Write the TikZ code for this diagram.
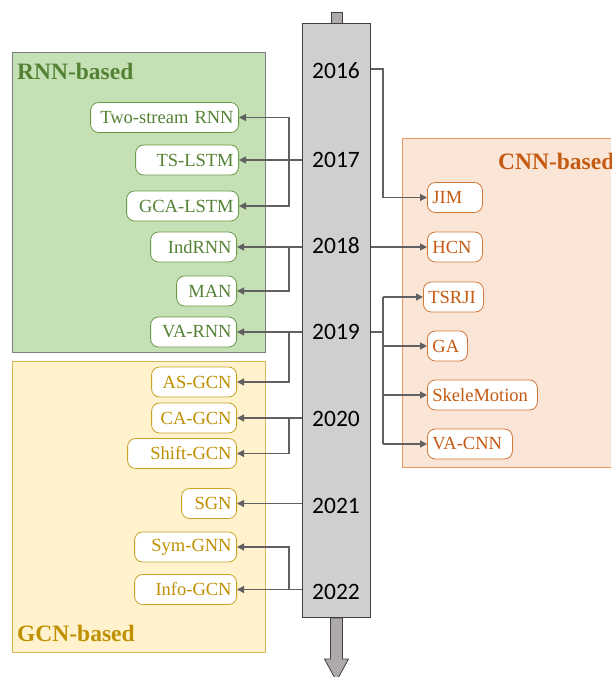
\documentclass[tikz,border=0pt]{standalone}
\usepackage{fontspec}
\setmainfont{Liberation Serif}
\newfontfamily\modelfont{Liberation Serif}
\newfontfamily\yearfont{Carlito}
\usetikzlibrary{arrows.meta}
\definecolor{rnnfill}{HTML}{C5E0B4}
\definecolor{rnnline}{HTML}{7F7F7F}
\definecolor{rnnnode}{HTML}{6A9A45}
\definecolor{rnntext}{HTML}{548235}
\definecolor{gcnfill}{HTML}{FFF2CC}
\definecolor{gcnline}{HTML}{D6B656}
\definecolor{gcnnode}{HTML}{C9A227}
\definecolor{gcntext}{HTML}{BF9000}
\definecolor{cnnfill}{HTML}{FBE5D6}
\definecolor{cnnline}{HTML}{E59A66}
\definecolor{cnnnode}{HTML}{D0773A}
\definecolor{cnntext}{HTML}{C55A11}
\definecolor{barfill}{HTML}{D0CECE}
\definecolor{stubfill}{HTML}{AEAAAA}
\definecolor{linkgray}{HTML}{606060}
\tikzstyle{model} = [draw, fill=white, rounded corners=8pt, minimum height=30pt, inner xsep=5pt, line width=0.8pt, font={\modelfont\fontsize{18.5pt}{22pt}\selectfont}]
\tikzstyle{rnn} = [model, draw=rnnnode, text=rnntext, anchor=east, align=right]
\tikzstyle{gcn} = [model, draw=gcnnode, text=gcntext, anchor=east, align=right]
\tikzstyle{cnn} = [model, draw=cnnnode, text=cnntext, anchor=west, align=left]
\tikzstyle{year} = [font={\yearfont\fontsize{23.5pt}{28pt}\selectfont}, inner sep=0pt]
\tikzstyle{area} = [font={\modelfont\bfseries\fontsize{23.5pt}{28pt}\selectfont}, anchor=base west, inner sep=0pt]
\tikzstyle{link} = [draw=linkgray, line width=1.2pt]

\begin{document}
\begin{tikzpicture}[x=1pt, y=-1pt, >={Triangle[length=7pt,width=7pt]}]
    \clip (0,0) rectangle (611,677);

    % Method areas
    \draw [rnnline, fill=rnnfill, line width=1pt] (12,53) rectangle (265,352);
    \draw [gcnline, fill=gcnfill, line width=1pt] (12,361) rectangle (265,652);
    \draw [cnnline, fill=cnnfill, line width=1pt] (402,138) rectangle (640,467);
    \node [area, text=rnntext] (rnnhead) at (17,80) {RNN-based};
    \node [area, text=gcntext] (gcnhead) at (17,641) {GCN-based};
    \node [area, text=cnntext] (cnnhead) at (498,169) {CNN-based};

    % Time line
    \node [draw=black!75, fill=barfill, line width=1pt, minimum width=68pt, minimum height=594pt, inner sep=0pt, anchor=north west] (bar) at (302,23) {};
    \draw [black!75, fill=stubfill, line width=0.8pt] (bar.north) ++(-5.5,0) rectangle ++(11,-11);
    \draw [black!75, fill=stubfill, line width=0.8pt] (bar.south) ++(-6,0) -- ++(0,41) -- ++(-6,0) -- ++(12,22) -- ++(12,-22) -- ++(-6,0) -- ++(0,-41) -- cycle;
    \node [year] (y2016) at (336,71) {2016};
    \node [year] (y2017) at (336,159.5) {2017};
    \node [year] (y2018) at (336,245.5) {2018};
    \node [year] (y2019) at (336,332) {2019};
    \node [year] (y2020) at (336,419) {2020};
    \node [year] (y2021) at (336,505.5) {2021};
    \node [year] (y2022) at (336,592) {2022};

    % RNN-based
    \node [rnn, text width=138pt] (two) at (239,117.5) {Two-stream RNN};
    \node [rnn, text width=93pt] (ts) at (239,160) {TS-LSTM};
    \node [rnn, text width=102pt] (gca) at (239,206) {GCA-LSTM};
    \node [rnn, text width=76pt] (ind) at (237,247) {IndRNN};
    \node [rnn, text width=50pt] (man) at (237,291) {MAN};
    \node [rnn, text width=76pt] (varnn) at (237,332) {VA-RNN};

    % GCN-based
    \node [gcn, text width=75pt] (as) at (237,382) {AS-GCN};
    \node [gcn, text width=75pt] (ca) at (237,418) {CA-GCN};
    \node [gcn, text width=99pt] (shift) at (237,453.5) {Shift-GCN};
    \node [gcn, text width=45pt] (sgn) at (237,503.5) {SGN};
    \node [gcn, text width=92pt] (sym) at (237,547) {Sym-GNN};
    \node [gcn, text width=92pt] (info) at (237,589.5) {Info-GCN};

    % CNN-based
    \node [cnn, text width=45pt] (jim) at (427,197.5) {JIM};
    \node [cnn, text width=45pt] (hcn) at (427,247) {HCN};
    \node [cnn, text width=50pt] (tsrji) at (423,297) {TSRJI};
    \node [cnn, text width=30pt] (ga) at (427,346) {GA};
    \node [cnn, text width=100pt] (skele) at (427,395) {SkeleMotion};
    \node [cnn, text width=75pt] (vacnn) at (427,444) {VA-CNN};

    % Connectors
    \coordinate (lt) at (289,0);
    \coordinate (rt) at (383,0);
    \draw [link, ->] (bar.west |- ts) -- (ts);
    \draw [link, <->] (two.east) -| (lt |- ts) |- (gca.east);
    \draw [link, ->] (bar.west |- ind) -- (ind);
    \draw [link, ->] (lt |- ind) |- (man);
    \draw [link, ->] (bar.west |- varnn) -- (varnn);
    \draw [link, ->] (lt |- varnn) |- (as);
    \draw [link, ->] (bar.west |- ca) -- (ca);
    \draw [link, ->] (lt |- ca) |- (shift);
    \draw [link, ->] (bar.west |- sgn) -- (sgn);
    \draw [link, ->] (bar.west |- info) -- (info);
    \draw [link, ->] (lt |- info) |- (sym);

    \draw [link, ->] ([yshift=2pt]bar.east |- y2016) -| (rt |- jim) -- (jim);
    \draw [link, ->] (bar.east |- hcn) -- (hcn);
    \draw [link] (bar.east |- y2019) -- (rt |- y2019);
    \draw [link] (rt |- tsrji) -- (rt |- vacnn);
    \foreach \m in {tsrji, ga, skele, vacnn}
        \draw [link, ->] (rt |- \m) -- (\m);
\end{tikzpicture}
\end{document}
